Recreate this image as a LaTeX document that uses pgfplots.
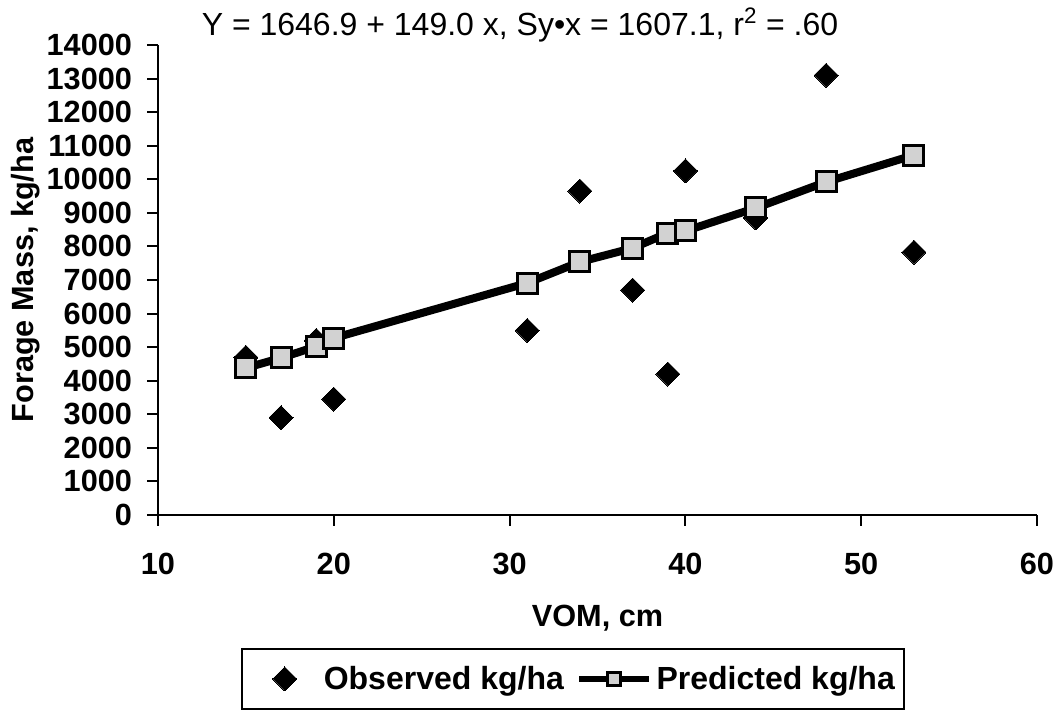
\documentclass[border=0pt]{standalone}
\usepackage{fontspec}
\setmainfont{Liberation Sans}
\usepackage{pgfplots}
\pgfplotsset{compat=1.18}
\begin{document}
\begin{tikzpicture}
\begin{axis}[
  at={(0,0)}, anchor=south west,
  scale only axis,
  width=659.25pt, height=352.5pt,
  xmin=10, xmax=60, ymin=0, ymax=14000,
  xtick={10,20,...,60},
  ytick={0,1000,...,14000},
  scaled ticks=false,
  axis x line*=bottom, axis y line*=left,
  axis line style={line width=2pt},
  tick align=outside,
  major tick length=8pt,
  every tick/.style={black, line width=1.5pt},
  minor tick num=0,
  /pgf/number format/assume math mode=true,
  /pgf/number format/1000 sep={},
  ticklabel style={font=\fontsize{23}{26}\selectfont\bfseries},
  xticklabel style={yshift=-17pt},
  yticklabel style={xshift=-8pt},
  xlabel={VOM, cm},
  ylabel={Forage Mass, kg/ha},
  label style={font=\fontsize{23}{27}\selectfont\bfseries},
  xlabel style={yshift=-16pt},
  ylabel style={yshift=-2pt},
  clip=false,
  legend columns=2,
  legend style={at={(0.4721,-0.283)}, anchor=north, draw=black, line width=1.5pt,
    font=\fontsize{24}{28}\selectfont\bfseries,
    inner xsep=6pt, inner ysep=12pt,
    nodes={inner sep=1pt},
    /tikz/every odd column/.append style={column sep=2pt},
    /tikz/every even column/.append style={column sep=8pt}},
  legend image code/.code={\draw[mark repeat=2,mark phase=2] plot coordinates {(0pt,0pt)(26.25pt,0pt)(52.5pt,0pt)};},
]
\addplot[only marks, mark=diamond*, mark size=9pt, mark options={xscale=1.333, fill=black, draw=black, line width=0pt},
  legend image code/.code={\path[draw=none,fill=none] (0pt,0pt) (52.5pt,0pt);
    \draw plot coordinates {(26.25pt,0pt)};}]
 coordinates {
 (15,4700) (17,2900) (19,5200) (20,3450) (31,5500) (34,9650) (37,6700)
 (39,4200) (40,10250) (44,8850) (48,13100) (53,7830)
 };
\addlegendentry{Observed kg/ha}
\addplot[black, line width=6pt, mark=square*, mark size=7.5pt,
  mark options={fill=gray!35, draw=black, line width=2.25pt},
  legend image post style={mark size=5pt, line width=5pt}]
 coordinates {
 (15,4380) (17,4680) (19,5020) (20,5270) (31,6910) (34,7540) (37,7950)
 (39,8400) (40,8460) (44,9145) (48,9920) (53,10720)
 };
\addlegendentry{Predicted kg/ha}
\node[font=\fontsize{24}{28}\selectfont, anchor=center] at (rel axis cs:0.4118,1) [yshift=15pt]
  {Y = 1646.9 + 149.0 x, Sy•x = 1607.1, r\textsuperscript{2} = .60};
\end{axis}
\pgfresetboundingbox
\path (-118.5pt,-150pt) rectangle (677.25pt,386.25pt);
\end{tikzpicture}
\end{document}
